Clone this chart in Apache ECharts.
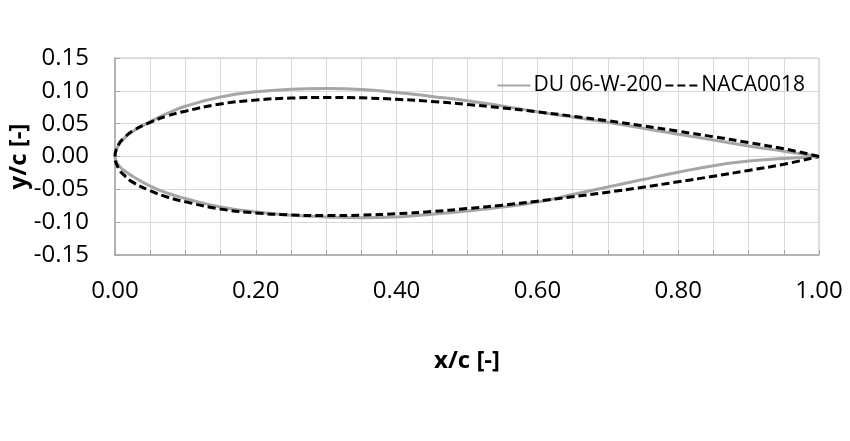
<!DOCTYPE html>
<html><head><meta charset="utf-8">
<script src="https://cdn.jsdelivr.net/npm/echarts@6/dist/echarts.min.js"></script>
<style>html,body{margin:0;padding:0;background:#fff}#c{width:850px;height:441px}</style>
</head><body><div id="c"></div>
<script>
const xPos = [0, 0.005, 0.0125, 0.025, 0.05, 0.075, 0.1, 0.15, 0.2, 0.25, 0.3, 0.35, 0.4, 0.45, 0.5, 0.55, 0.6, 0.65, 0.7, 0.75, 0.8, 0.85, 0.9, 0.95, 1.0];
const duUpper = [0, 0.017, 0.027, 0.038, 0.053, 0.066, 0.0765, 0.0905, 0.0985, 0.1024, 0.1035, 0.1022, 0.0975, 0.0915, 0.085, 0.077, 0.068, 0.060, 0.052, 0.043, 0.034, 0.025, 0.016, 0.008, 0];
const duLower = [0, -0.013, -0.021, -0.030, -0.045, -0.056, -0.064, -0.077, -0.0845, -0.0895, -0.092, -0.0932, -0.092, -0.088, -0.083, -0.077, -0.0695, -0.058, -0.0465, -0.035, -0.024, -0.014, -0.007, -0.003, 0];
const nacaUpper = [0, 0.018, 0.028, 0.039, 0.052, 0.062, 0.069, 0.080, 0.086, 0.089, 0.090, 0.0893, 0.0871, 0.0838, 0.0793, 0.0741, 0.0681, 0.0614, 0.0544, 0.0467, 0.0385, 0.0301, 0.0212, 0.0118, 0];
const nacaLower = [0, -0.018, -0.028, -0.039, -0.052, -0.062, -0.069, -0.080, -0.086, -0.089, -0.090, -0.0893, -0.0871, -0.0838, -0.0793, -0.0741, -0.0681, -0.0614, -0.0544, -0.0467, -0.0385, -0.0301, -0.0212, -0.0118, 0];
const seriesNames = ['DU 06-W-200', 'NACA0018'];

function loop(up, low) {
  const pts = [];
  for (let i = xPos.length - 1; i >= 0; i--) pts.push([xPos[i], up[i]]);
  for (let i = 1; i < xPos.length; i++) pts.push([xPos[i], low[i]]);
  return pts;
}

const FONT = '"Open Sans", sans-serif';
const chart = echarts.init(document.getElementById('c'), null, {renderer: 'canvas'});
chart.setOption({
  animation: false,
  backgroundColor: '#fff',
  grid: {left: 115, right: 31, top: 58, bottom: 186, containLabel: false, outerBoundsMode: 'none',
         show: true, borderColor: '#bfbfbf', borderWidth: 1},
  legend: {
    right: 40, top: 70, itemGap: 2, itemWidth: 33, itemHeight: 14,
    itemStyle: {opacity: 0},
    textStyle: {fontFamily: FONT, fontSize: 21, color: '#000', padding: [0,0,0,-2]},
    data: seriesNames
  },
  xAxis: {
    type: 'value', min: 0, max: 1, interval: 0.05,
    name: 'x/c [-]', nameLocation: 'middle', nameGap: 94, nameMoveOverlap: false,
    nameTextStyle: {fontFamily: FONT, fontSize: 24, fontWeight: 'bold', color: '#000'},
    axisLine: {show: true, onZero: false, lineStyle: {color: '#a6a6a6', width: 1.5}},
    axisTick: {show: true, inside: true, length: 5, lineStyle: {color: '#a6a6a6'}},
    splitLine: {show: true, lineStyle: {color: '#d9d9d9', width: 1}},
    axisLabel: {fontFamily: FONT, fontSize: 24, color: '#000', margin: 24,
      formatter: v => (Math.round(v * 100) % 20 === 0) ? v.toFixed(2) : ''}
  },
  yAxis: {
    type: 'value', min: -0.15, max: 0.15, interval: 0.05,
    name: 'y/c [-]', nameLocation: 'middle', nameGap: 84, nameMoveOverlap: false,
    nameTextStyle: {fontFamily: FONT, fontSize: 24, fontWeight: 'bold', color: '#000'},
    axisLine: {show: true, onZero: false, lineStyle: {color: '#a6a6a6', width: 1.5}},
    axisTick: {show: true, inside: true, length: 5, lineStyle: {color: '#a6a6a6'}},
    splitLine: {show: true, lineStyle: {color: '#d9d9d9', width: 1}},
    axisLabel: {fontFamily: FONT, fontSize: 24, color: '#000', margin: 26,
      formatter: v => v.toFixed(2)}
  },
  series: [
    {name: seriesNames[0], type: 'line', data: loop(duUpper, duLower), smooth: 0.5,
     symbol: 'none', color: '#a6a6a6', lineStyle: {color: '#a6a6a6', width: 3}, z: 2},
    {name: seriesNames[1], type: 'line', data: loop(nacaUpper, nacaLower), smooth: 0.5,
     symbol: 'none', color: '#000', lineStyle: {color: '#000', width: 3, type: [8, 4]}, z: 3}
  ]
});
</script></body></html>
